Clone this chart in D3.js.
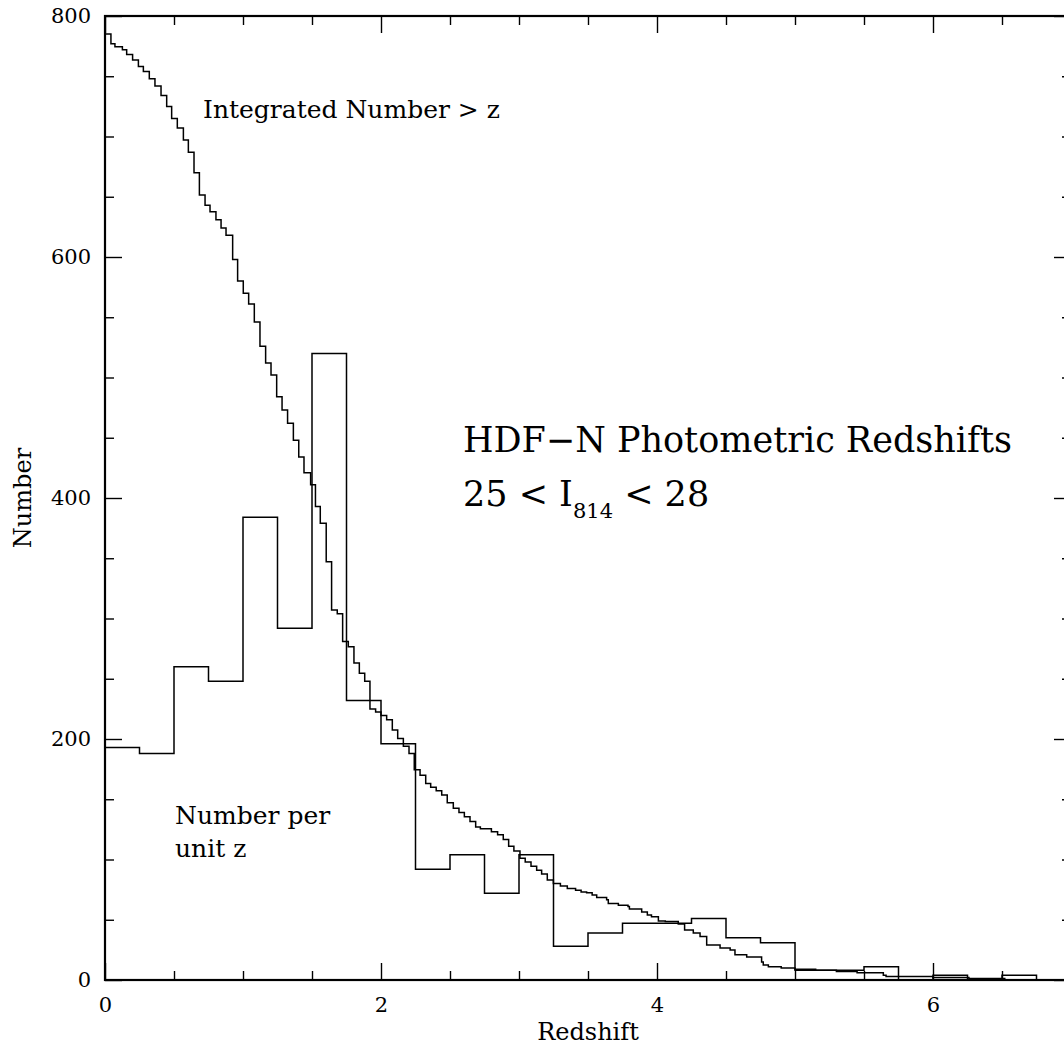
<!DOCTYPE html>
<html>
<head>
<meta charset="utf-8">
<script src="https://cdn.jsdelivr.net/npm/d3@7"></script>
<style>
  html, body { margin: 0; padding: 0; background: #fff; }
  svg { display: block; }
  text { font-family: "DejaVu Serif", serif; fill: #000; }
</style>
</head>
<body>
<svg id="chart" width="1064" height="1049"></svg>
<script>
// Number of galaxies per unit redshift, in bins of width 0.25 starting at z = 0
const binWidth = 0.25;
const perUnitZ = [193, 188, 260, 248, 384, 292, 520, 232, 196, 92, 104, 72, 104, 28,
                  39, 47, 47, 51, 35, 31, 8, 8, 11, 0, 4, 0, 4];

// Integrated number of galaxies above redshift z (staircase: level holds from each z onward)
const cumZ = [0, 0.043, 0.072, 0.126, 0.157, 0.2, 0.242, 0.278, 0.321, 0.362, 0.406, 0.447,
  0.483, 0.524, 0.568, 0.604, 0.645, 0.684, 0.725, 0.761, 0.804, 0.841, 0.877, 0.925, 0.961,
  1.002, 1.041, 1.082, 1.123, 1.164, 1.203, 1.244, 1.283, 1.323, 1.365, 1.404, 1.442, 1.49,
  1.525, 1.56, 1.603, 1.642, 1.683, 1.722, 1.763, 1.804, 1.843, 1.882, 1.92, 1.961, 2.0,
  2.041, 2.082, 2.121, 2.162, 2.203, 2.241, 2.283, 2.324, 2.36, 2.40, 2.44, 2.48, 2.524,
  2.565, 2.604, 2.645, 2.686, 2.72, 2.80, 2.845, 2.886, 2.925, 2.963, 3.007, 3.045, 3.087,
  3.128, 3.164, 3.205, 3.249, 3.30, 3.35, 3.41, 3.45, 3.49, 3.53, 3.563, 3.635, 3.647, 3.72,
  3.79, 3.80, 3.889, 3.93, 3.96, 4.01, 4.06, 4.154, 4.2, 4.263, 4.312, 4.36, 4.457, 4.53,
  4.565, 4.65, 4.758, 4.77, 4.807, 4.9, 5.0, 5.15, 5.3, 5.45, 5.64, 5.66, 6.0, 6.26, 6.52];
const cumN = [785, 777, 774.5, 772, 768, 763.5, 758, 754, 748, 742, 734, 725,
  715, 707, 697, 687, 670, 651.5, 643, 637.5, 631, 624, 618, 598, 580,
  570, 561, 546, 526, 512, 502, 484, 473, 462, 448, 434, 421, 411,
  393, 379, 347, 307, 304, 281, 276.5, 263, 254.5, 248, 225, 222.5, 219.5,
  216, 207.5, 200.5, 194, 188, 174.5, 170, 163, 160, 157, 153.5, 147, 142.5,
  139, 135.5, 131.5, 127, 125.5, 123, 120.5, 116.5, 111, 107, 101, 98, 94.5,
  91, 88, 83, 80, 78, 76, 74.5, 73, 72.5, 70.5, 68.5, 66.5, 63.5, 62,
  61, 59, 56.5, 54, 52.5, 49, 48.5, 46.5, 41.5, 39, 36, 29, 26.5, 25,
  21, 19, 15, 12.5, 11, 10, 9, 8, 7, 6, 4, 3, 2, 1.2, 0.3];

// Axis ticks
const xMajor = [0, 2, 4, 6];
const xMinor = [0.5, 1, 1.5, 2.5, 3, 3.5, 4.5, 5, 5.5, 6.5];
const yMajor = [0, 200, 400, 600, 800];
const yMinor = [50, 100, 150, 250, 300, 350, 450, 500, 550, 650, 700, 750];

const svg = d3.select("#chart");
const x = d3.scaleLinear().domain([0, 7]).range([105, 1071]);
const y = d3.scaleLinear().domain([0, 800]).range([980, 16]);

const majorLen = 17, minorLen = 9;

function styleAxis(g, fontSize) {
  g.selectAll(".domain").remove();
  g.selectAll(".tick line").attr("stroke", "#000").attr("stroke-width", 1.4);
  g.selectAll("text").attr("font-family", "DejaVu Serif, serif")
    .attr("font-size", fontSize).attr("fill", "#000");
}

// Bottom axis with labels
svg.append("g").attr("transform", `translate(0,${y(0)})`)
  .call(d3.axisBottom(x).tickValues(xMajor).tickSizeInner(-majorLen).tickSizeOuter(0)
    .tickPadding(17).tickFormat(d3.format("d")))
  .call(g => styleAxis(g, 21));
svg.append("g").attr("transform", `translate(0,${y(0)})`)
  .call(d3.axisBottom(x).tickValues(xMinor).tickSizeInner(-minorLen).tickSizeOuter(0).tickFormat(""))
  .call(g => styleAxis(g, 21));

// Top axis (ticks only)
svg.append("g").attr("transform", `translate(0,${y(800)})`)
  .call(d3.axisTop(x).tickValues(xMajor).tickSizeInner(-majorLen).tickSizeOuter(0).tickFormat(""))
  .call(g => styleAxis(g, 21));
svg.append("g").attr("transform", `translate(0,${y(800)})`)
  .call(d3.axisTop(x).tickValues(xMinor).tickSizeInner(-minorLen).tickSizeOuter(0).tickFormat(""))
  .call(g => styleAxis(g, 21));

// Left axis with labels
svg.append("g").attr("transform", `translate(${x(0)},0)`)
  .call(d3.axisLeft(y).tickValues(yMajor).tickSizeInner(-majorLen).tickSizeOuter(0)
    .tickPadding(14).tickFormat(d3.format("d")))
  .call(g => styleAxis(g, 21));
svg.append("g").attr("transform", `translate(${x(0)},0)`)
  .call(d3.axisLeft(y).tickValues(yMinor).tickSizeInner(-minorLen).tickSizeOuter(0).tickFormat(""))
  .call(g => styleAxis(g, 21));

// Right axis (ticks only)
svg.append("g").attr("transform", `translate(${x(7)},0)`)
  .call(d3.axisRight(y).tickValues(yMajor).tickSizeInner(-majorLen).tickSizeOuter(0).tickFormat(""))
  .call(g => styleAxis(g, 21));
svg.append("g").attr("transform", `translate(${x(7)},0)`)
  .call(d3.axisRight(y).tickValues(yMinor).tickSizeInner(-minorLen).tickSizeOuter(0).tickFormat(""))
  .call(g => styleAxis(g, 21));

// Plot frame
svg.append("rect")
  .attr("x", x(0)).attr("y", y(800))
  .attr("width", x(7) - x(0)).attr("height", y(0) - y(800))
  .attr("fill", "none").attr("stroke", "#000").attr("stroke-width", 2.2);

// Histogram of number per unit z
const histPts = perUnitZ.map((v, i) => [i * binWidth, v]);
const zEnd = perUnitZ.length * binWidth;
histPts.push([zEnd, perUnitZ[perUnitZ.length - 1]], [zEnd, 0]);
const stepLine = d3.line().x(d => x(d[0])).y(d => y(d[1])).curve(d3.curveStepAfter);
svg.append("path").datum(histPts)
  .attr("d", stepLine)
  .attr("fill", "none").attr("stroke", "#000").attr("stroke-width", 1.5);

// Integrated number > z
const cumPts = cumZ.map((z, i) => [z, cumN[i]]);
svg.append("path").datum(cumPts)
  .attr("d", stepLine)
  .attr("fill", "none").attr("stroke", "#000").attr("stroke-width", 1.5);

// Annotations
svg.append("text").attr("x", 203).attr("y", 118).attr("font-size", 25)
  .text("Integrated Number > z");
svg.append("text").attr("x", 175).attr("y", 824).attr("font-size", 25)
  .text("Number per");
svg.append("text").attr("x", 175).attr("y", 857).attr("font-size", 25)
  .text("unit z");

svg.append("text").attr("x", 463).attr("y", 452).attr("font-size", 35)
  .text("HDF\u2212N Photometric Redshifts");
const sub = svg.append("text").attr("x", 463).attr("y", 506).attr("font-size", 35);
sub.append("tspan").text("25 < I");
sub.append("tspan").attr("font-size", 21).attr("dy", 12).text("814");
sub.append("tspan").attr("dy", -12).text(" < 28");

// Axis titles
svg.append("text").attr("x", (x(0) + x(7)) / 2).attr("y", 1040)
  .attr("text-anchor", "middle").attr("font-size", 24).text("Redshift");
svg.append("text").attr("transform", `translate(31,${(y(0) + y(800)) / 2}) rotate(-90)`)
  .attr("text-anchor", "middle").attr("font-size", 24).text("Number");
</script>
</body>
</html>
